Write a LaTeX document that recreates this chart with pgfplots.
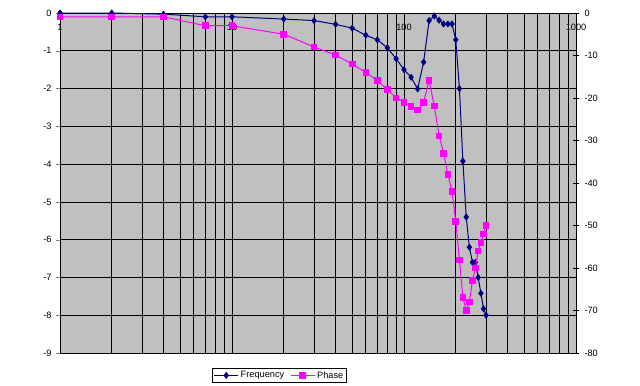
\documentclass[border=0pt]{standalone}
\usepackage{pgfplots}
\pgfplotsset{compat=1.18}
\usepackage{fontspec}
\setmainfont{Liberation Sans}
\definecolor{bg}{RGB}{192,192,192}
\definecolor{navy}{RGB}{0,0,128}
\definecolor{mag}{RGB}{255,0,255}

\pgfplotstableread{
x y
1 0
2 0
4 -0.03
7 -0.1
10 -0.1
20 -0.16
30 -0.2
40 -0.3
50 -0.4
60 -0.59
70 -0.71
80 -0.92
90 -1.21
100 -1.5
110 -1.7
120 -2.01
130 -1.3
140 -0.2
150 -0.08
160 -0.19
170 -0.29
180 -0.29
190 -0.29
200 -0.71
210 -2.0
220 -3.92
230 -5.4
240 -6.2
250 -6.6
260 -6.6
270 -7.0
280 -7.42
290 -7.83
300 -8.0
}\freqtable

\pgfplotstableread{
x y
1 -0.9
2 -0.9
4 -0.9
7 -3
10 -3
20 -5
30 -8
40 -9.9
50 -12
60 -14
70 -15.9
80 -18
90 -20
100 -21
110 -22
120 -22.8
130 -21
140 -15.9
150 -21.9
160 -28.9
170 -33
180 -38
190 -42
200 -49
210 -58.1
220 -67
230 -70
240 -68
250 -63
260 -60
270 -56
280 -54
290 -52
300 -50
}\phasetable

\begin{document}
\begin{tikzpicture}
\useasboundingbox (-60bp,-33bp) rectangle (580bp,353bp);
\pgfplotsset{every axis/.append style={
  scale only axis, width=516bp, height=340bp,
  at={(0,0)}, anchor=south west,
  font=\fontsize{9.2bp}{11bp}\selectfont,
  /pgf/number format/assume math mode=true,
  xmode=log, xmin=1, xmax=1000,
}}
\begin{axis}[
  ymin=-9, ymax=0, ytick={-9,-8,...,0},
  axis background/.style={fill=bg},
  xtick={1,10,100,1000}, xticklabels={},
  xtick style={draw=none},
  minor tick length=0pt,
  xmajorgrids, xminorgrids, ymajorgrids,
  grid style={black, line width=0.7bp},
  minor grid style={black, line width=0.7bp},
  major grid style={black, line width=0.7bp},
  ytick pos=left, tick align=outside,
  major tick length=4bp,
  axis line style={black, line width=0.8bp},
  yticklabel style={xshift=-1bp},
  clip=false,
]
\node[anchor=north, inner sep=0pt] at (axis cs:1,-0.28) {1};
\node[anchor=north, inner sep=0pt] at (axis cs:10,-0.28) {10};
\node[anchor=north, inner sep=0pt] at (axis cs:100,-0.28) {100};
\node[anchor=north, inner sep=0pt] at (axis cs:1000,-0.28) {1000};
\addplot[navy, line width=1bp, mark=diamond*, mark size=2.8bp, mark options={fill=navy, draw=navy}] table[x=x,y=y] {\freqtable};
\end{axis}
\begin{axis}[
  axis x line=none,
  axis y line*=right,
  axis line style={-, black, line width=0.8bp},
  ymin=-80, ymax=0, ytick={-80,-70,...,0},
  tick align=center, major tick length=7bp,
  ytick style={black, line width=0.8bp},
  yticklabel style={xshift=1.5bp},
  legend style={at={(0.4254,-0.066)}, anchor=center, draw=black, fill=white,
    legend columns=2, inner sep=1.2bp, line width=0.8bp,
    /tikz/every even column/.append style={column sep=4bp},
    font=\fontsize{9.2bp}{11bp}\selectfont},
  legend image code/.code={\draw[mark repeat=2, mark phase=2, #1] plot coordinates {(0bp,0bp) (12bp,0bp) (24bp,0bp)};},
]
\addlegendimage{navy, line width=1bp, mark=diamond*, mark size=2.8bp, mark options={fill=navy, draw=navy}}
\addlegendentry{Frequency}
\addplot[mag, line width=1bp, mark=square*, mark size=2.8bp, mark options={fill=mag, draw=mag}] table[x=x,y=y] {\phasetable};
\addlegendentry{Phase}
\end{axis}
\end{tikzpicture}
\end{document}
